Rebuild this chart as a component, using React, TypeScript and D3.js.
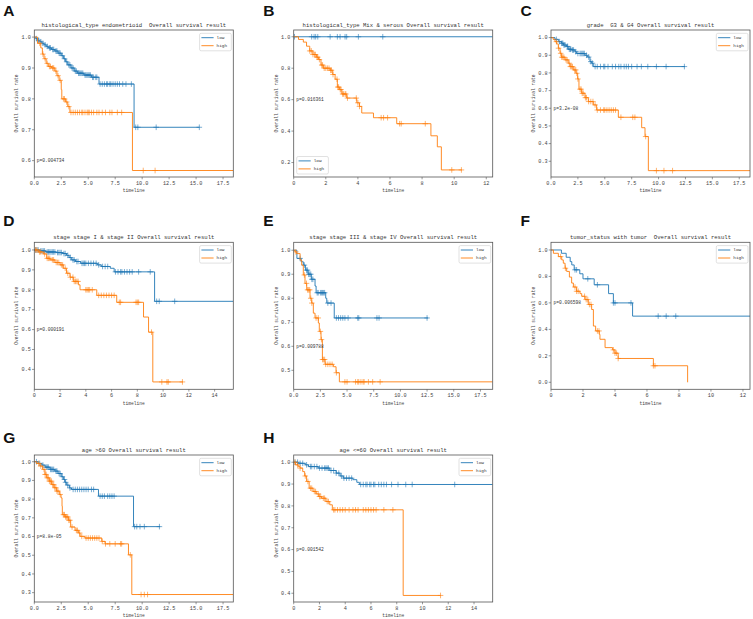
import React from 'react';
import * as d3 from 'd3';

type Step = [number, number];

// ---------- Panel A: histological_type endometrioid ----------
const aLowSteps: Step[] = [[0.15,0.995],[0.3,0.99],[0.5,0.985],[0.7,0.98],[0.9,0.975],[1.1,0.97],[1.3,0.965],[1.6,0.96],[1.9,0.955],[2.2,0.948],[2.5,0.94],[2.7,0.93],[2.9,0.92],[3.1,0.91],[3.4,0.9],[3.7,0.89],[4.0,0.883],[4.6,0.877],[5.3,0.87],[6.0,0.848],[9.25,0.708]];
const aLowCensors = [0.2,0.4,0.6,0.8,1.0,1.2,1.4,1.5,1.7,1.8,2.0,2.1,2.3,2.4,2.6,2.8,3.0,3.2,3.3,3.5,3.6,3.8,3.9,4.1,4.2,4.3,4.4,4.5,4.7,4.8,4.9,5.0,5.1,5.2,5.4,5.5,5.7,5.8,6.1,6.3,6.5,6.7,6.8,7.0,7.1,7.3,7.5,7.7,7.9,8.2,8.5,9.0,9.4,9.6,11.3,15.3];
const aLowEnd = 15.3;
const aHighSteps: Step[] = [[0.3,0.98],[0.6,0.965],[0.75,0.945],[0.9,0.93],[1.1,0.915],[1.3,0.905],[1.6,0.9],[1.9,0.89],[2.1,0.875],[2.3,0.86],[2.5,0.83],[2.55,0.8],[2.9,0.79],[3.1,0.775],[3.3,0.756],[9.1,0.568]];
const aHighCensors = [0.5,0.8,1.0,1.2,1.4,1.5,1.7,1.8,2.0,2.2,2.4,2.7,2.8,3.0,3.2,3.4,3.6,3.8,4.0,4.2,4.4,4.5,4.7,4.9,5.0,5.1,5.3,5.5,5.8,6.0,6.3,6.6,7.0,7.2,7.7,8.1,10.1,11.2];
const aHighEnd = 18.45;

// ---------- Panel B: histological_type Mix & serous ----------
const bLowSteps: Step[] = [];
const bLowCensors = [0.05,1.12,1.27,1.37,1.5,2.27,2.72,2.89,3.2,3.3,4.03,5.55];
const bLowEnd = 12.4;
const bHighSteps: Step[] = [[0.3,0.983],[0.6,0.966],[0.8,0.94],[1.0,0.91],[1.2,0.887],[1.43,0.87],[1.55,0.855],[1.7,0.82],[1.85,0.8],[2.27,0.787],[2.43,0.76],[2.58,0.73],[2.72,0.68],[2.85,0.664],[3.0,0.636],[3.3,0.61],[3.93,0.58],[4.1,0.557],[4.24,0.515],[4.97,0.485],[6.42,0.447],[8.55,0.37],[8.95,0.3],[9.2,0.153]];
const bHighCensors = [1.0,1.1,1.2,1.3,1.35,1.45,1.5,1.6,1.75,1.8,1.9,2.0,2.1,2.2,2.3,2.35,2.45,2.7,2.75,2.8,2.9,2.95,3.05,3.1,3.2,3.25,3.35,3.9,4.0,4.1,5.45,5.6,5.85,6.6,6.7,8.2,9.85,10.45];
const bHighEnd = 10.48;

// ---------- Panel C: grade G3 & G4 ----------
const cLowSteps: Step[] = [[0.37,0.99],[0.68,0.977],[0.99,0.968],[1.15,0.958],[1.45,0.95],[1.6,0.934],[1.92,0.93],[2.23,0.92],[2.38,0.91],[3.16,0.9],[3.38,0.89],[3.62,0.864],[3.78,0.855],[3.93,0.836]];
const cLowCensors = [0.5,0.8,1.0,1.1,1.2,1.3,1.5,1.55,1.7,1.8,1.85,2.0,2.1,2.3,2.5,2.7,2.8,2.9,3.0,3.1,3.3,3.5,3.7,3.85,4.1,4.3,4.6,4.9,5.0,5.3,5.7,6.0,6.3,6.5,6.8,7.0,7.2,7.5,8.0,8.4,9.0,9.8,10.7,12.4];
const cLowEnd = 12.45;
const cHighSteps: Step[] = [[0.2,0.99],[0.37,0.977],[0.53,0.964],[0.68,0.94],[0.84,0.911],[0.99,0.889],[1.3,0.874],[1.6,0.855],[1.77,0.836],[2.07,0.817],[2.32,0.798],[2.48,0.766],[2.6,0.708],[2.85,0.685],[3.16,0.66],[3.47,0.638],[3.93,0.619],[4.24,0.59],[6.26,0.549],[8.43,0.49],[8.74,0.44],[9.05,0.247]];
const cHighCensors = [0.5,0.7,0.9,1.0,1.1,1.2,1.4,1.5,1.7,1.8,1.9,2.0,2.2,2.3,2.4,2.5,2.7,2.8,2.9,3.0,3.2,3.3,3.5,3.7,3.9,4.1,4.3,4.6,4.9,5.0,5.2,5.4,5.6,5.8,6.0,6.5,7.6,7.8,8.8,9.8,10.5,11.3];
const cHighEnd = 18.5;

// ---------- Panel D: stage I & II ----------
const dLowSteps: Step[] = [[0.4,0.995],[0.9,0.99],[1.7,0.987],[2.2,0.982],[2.5,0.973],[2.7,0.962],[2.9,0.95],[3.2,0.942],[3.6,0.933],[4.9,0.925],[5.2,0.917],[5.9,0.908],[6.2,0.89],[9.34,0.742]];
const dLowCensors = [0.1,0.2,0.3,0.5,0.6,0.7,0.8,1.0,1.1,1.2,1.3,1.4,1.5,1.6,1.8,1.9,2.0,2.1,2.3,2.4,2.6,2.8,3.0,3.1,3.3,3.4,3.7,3.8,3.9,4.0,4.2,4.4,4.6,4.8,5.0,5.3,5.5,5.7,6.3,6.5,6.7,6.8,7.0,7.2,7.4,7.6,8.1,9.0,9.5,9.7,10.9];
const dLowEnd = 15.45;
const dHighSteps: Step[] = [[0.31,0.99],[0.7,0.98],[0.96,0.958],[1.22,0.95],[1.6,0.937],[2.0,0.925],[2.25,0.908],[2.5,0.883],[2.77,0.863],[3.03,0.842],[3.42,0.825],[3.55,0.8],[4.85,0.772],[6.4,0.737],[8.48,0.663],[8.87,0.587],[9.2,0.337]];
const dHighCensors = [0.1,0.2,0.4,0.5,0.8,1.0,1.1,1.2,1.4,1.5,1.7,1.8,1.9,2.1,2.2,2.4,2.6,2.8,3.0,3.1,3.2,3.3,3.4,4.0,4.1,4.2,4.3,4.5,5.0,5.2,5.4,5.6,5.8,6.0,6.2,6.6,6.7,7.9,8.0,8.1,9.1,9.9,10.3,10.4,11.5];
const dHighEnd = 11.54;

// ---------- Panel E: stage III & IV ----------
const eLowSteps: Step[] = [[0.3,0.966],[0.7,0.952],[0.9,0.938],[1.1,0.917],[1.35,0.9],[1.65,0.879],[2.0,0.851],[2.1,0.823],[3.0,0.8],[3.1,0.78],[3.8,0.718]];
const eLowCensors = [0.6,1.0,1.2,1.3,1.4,1.5,1.6,1.7,1.8,2.2,2.3,2.5,2.6,2.7,2.8,2.9,3.2,3.5,4.0,4.2,4.4,4.6,4.8,5.1,6.0,6.1,7.8,8.0,12.5];
const eLowEnd = 12.6;
const eHighSteps: Step[] = [[0.13,0.993],[0.28,0.986],[0.6,0.959],[0.75,0.938],[0.9,0.897],[1.06,0.862],[1.22,0.835],[1.53,0.8],[1.69,0.78],[1.84,0.738],[2.0,0.718],[2.31,0.697],[2.4,0.662],[2.56,0.628],[2.69,0.545],[2.94,0.525],[3.72,0.515],[3.97,0.49],[4.28,0.452]];
const eHighCensors = [0.2,1.0,1.2,1.3,1.4,1.5,1.6,1.7,2.1,2.3,2.5,2.6,2.7,2.8,2.9,3.0,3.2,3.4,3.6,4.0,4.8,5.0,5.8,6.0,6.1,6.3,6.5,6.6,7.0,7.4,8.1];
const eHighEnd = 18.65;

// ---------- Panel F: tumor_status with tumor ----------
const fLowSteps: Step[] = [[0.65,0.975],[0.95,0.945],[1.2,0.912],[1.3,0.887],[1.45,0.85],[1.8,0.82],[2.0,0.782],[2.7,0.737],[3.6,0.67],[3.9,0.6],[5.1,0.5]];
const fLowCensors = [1.5,1.6,2.3,2.9,3.9,4.0,5.0,6.7,7.2,7.8];
const fLowEnd = 12.44;
const fHighSteps: Step[] = [[0.15,0.975],[0.46,0.95],[0.67,0.925],[0.77,0.9],[0.88,0.862],[0.98,0.838],[1.15,0.795],[1.29,0.75],[1.4,0.72],[1.6,0.688],[1.81,0.67],[1.92,0.65],[2.13,0.625],[2.33,0.588],[2.54,0.55],[2.65,0.425],[2.79,0.388],[3.02,0.362],[3.06,0.325],[3.38,0.262],[3.85,0.245],[4.0,0.22],[4.2,0.18],[6.4,0.125],[8.54,0.0]];
const fHighCensors = [0.6,0.9,1.5,1.6,1.7,2.1,2.2,2.3,2.4,2.5,2.9,3.0,3.9,4.0,4.1,4.2,6.4,6.5];
const fHighEnd = 8.54;

// ---------- Panel G: age >60 ----------
const gLowSteps: Step[] = [[0.35,0.991],[0.7,0.982],[1.0,0.971],[1.45,0.959],[1.9,0.95],[2.2,0.937],[2.5,0.92],[2.7,0.905],[2.85,0.89],[3.0,0.875],[3.25,0.86],[3.45,0.852],[5.95,0.816],[9.2,0.653]];
const gLowCensors = [0.2,0.5,0.8,1.1,1.2,1.3,1.5,1.6,1.7,1.8,2.0,2.1,2.3,2.4,2.6,2.8,2.9,3.1,3.3,3.6,3.8,4.0,4.2,4.4,4.6,4.8,5.0,5.3,5.5,6.1,6.3,6.5,6.8,7.0,7.2,7.4,9.3,9.5,9.8,10.2,11.6];
const gLowEnd = 11.67;
const gHighSteps: Step[] = [[0.22,0.991],[0.53,0.977],[0.77,0.959],[0.99,0.932],[1.15,0.914],[1.39,0.896],[1.61,0.878],[1.83,0.861],[2.07,0.843],[2.32,0.825],[2.48,0.807],[2.57,0.762],[2.6,0.717],[2.85,0.705],[3.16,0.687],[3.37,0.651],[3.78,0.633],[4.09,0.619],[4.24,0.601],[4.7,0.592],[6.25,0.574],[6.56,0.561],[8.73,0.502],[9.04,0.29]];
const gHighCensors = [0.4,0.6,0.9,1.0,1.1,1.2,1.3,1.4,1.5,1.6,1.7,1.8,1.9,2.0,2.1,2.2,2.4,2.7,2.8,2.9,3.0,3.1,3.2,3.3,3.5,3.9,4.0,4.2,4.4,4.8,5.0,5.2,5.4,5.6,5.8,6.0,6.3,6.6,7.0,7.5,8.0,8.1,8.9,9.9,10.2,10.5];
const gHighEnd = 18.45;

// ---------- Panel H: age <=60 ----------
const hLowSteps: Step[] = [[0.35,0.995],[0.9,0.988],[1.15,0.98],[1.9,0.973],[2.8,0.962],[3.3,0.95],[3.6,0.937],[3.85,0.927],[4.6,0.92],[4.9,0.908],[5.1,0.898]];
const hLowCensors = [0.1,0.3,0.5,0.7,1.0,1.3,1.4,1.6,1.8,2.0,2.2,2.4,2.5,2.6,2.7,2.9,3.1,3.3,3.5,3.7,3.9,4.1,4.3,4.5,5.2,5.4,5.6,5.7,5.9,6.0,6.2,6.3,6.6,6.8,7.0,7.2,7.6,8.1,8.7,9.2,12.5];
const hLowEnd = 15.45;
const hHighSteps: Step[] = [[0.15,0.988],[0.35,0.98],[0.5,0.973],[0.7,0.957],[0.85,0.937],[1.0,0.912],[1.2,0.881],[1.5,0.866],[1.75,0.855],[1.95,0.843],[2.15,0.835],[2.5,0.82],[2.8,0.805],[3.0,0.782],[8.5,0.39]];
const hHighCensors = [0.1,0.3,0.5,0.9,1.1,1.3,1.4,1.6,1.7,1.9,2.0,2.1,2.3,2.4,2.6,2.7,3.1,3.2,3.4,3.6,3.8,4.0,4.3,4.6,4.8,5.0,5.4,5.6,5.8,6.0,6.2,6.4,7.0,7.7,11.4];
const hHighEnd = 11.41;

// ---------- Titles, letters, p-values, axis settings ----------
const panelLetters = ['A','B','C','D','E','F','G','H'];
const panelTitles = [
  'histological_type endometrioid  Overall survival result',
  'histological_type Mix & serous Overall survival result',
  'grade  G3 & G4 Overall survival result',
  'stage stage I & stage II Overall survival result',
  'stage stage III & stage IV Overall survival result',
  'tumor_status with tumor  Overall survival result',
  'age >60 Overall survival result',
  'age <=60 Overall survival result',
];
const pValues = ['p=0.004734','p=0.016361','p=3.2e-08','p=0.000191','p=0.009788','p=0.006598','p=8.8e-05','p=0.001542'];
const xMaxes = [18.45, 12.4, 18.5, 15.45, 18.65, 12.44, 18.45, 15.45];
const yDomains: [number, number][] = [[0.547,1.023],[0.108,1.043],[0.211,1.043],[0.30,1.0385],[0.421,1.033],[-0.053,1.058],[0.25,1.036],[0.36,1.033]];
const xTickSets = [
  [0,2.5,5,7.5,10,12.5,15,17.5],
  [0,2,4,6,8,10,12],
  [0,2.5,5,7.5,10,12.5,15,17.5],
  [0,2,4,6,8,10,12,14],
  [0,2.5,5,7.5,10,12.5,15,17.5],
  [0,2,4,6,8,10,12],
  [0,2.5,5,7.5,10,12.5,15,17.5],
  [0,2,4,6,8,10,12,14],
];
const yTickSets = [
  [0.6,0.7,0.8,0.9,1.0],
  [0.2,0.4,0.6,0.8,1.0],
  [0.3,0.4,0.5,0.6,0.7,0.8,0.9,1.0],
  [0.4,0.5,0.6,0.7,0.8,0.9,1.0],
  [0.5,0.6,0.7,0.8,0.9,1.0],
  [0.0,0.2,0.4,0.6,0.8,1.0],
  [0.3,0.4,0.5,0.6,0.7,0.8,0.9,1.0],
  [0.4,0.5,0.6,0.7,0.8,0.9,1.0],
];
const legendBottom = [false,true,false,false,false,false,false,false];

const curves = [
  [{ steps: aLowSteps, censors: aLowCensors, end: aLowEnd }, { steps: aHighSteps, censors: aHighCensors, end: aHighEnd }],
  [{ steps: bLowSteps, censors: bLowCensors, end: bLowEnd }, { steps: bHighSteps, censors: bHighCensors, end: bHighEnd }],
  [{ steps: cLowSteps, censors: cLowCensors, end: cLowEnd }, { steps: cHighSteps, censors: cHighCensors, end: cHighEnd }],
  [{ steps: dLowSteps, censors: dLowCensors, end: dLowEnd }, { steps: dHighSteps, censors: dHighCensors, end: dHighEnd }],
  [{ steps: eLowSteps, censors: eLowCensors, end: eLowEnd }, { steps: eHighSteps, censors: eHighCensors, end: eHighEnd }],
  [{ steps: fLowSteps, censors: fLowCensors, end: fLowEnd }, { steps: fHighSteps, censors: fHighCensors, end: fHighEnd }],
  [{ steps: gLowSteps, censors: gLowCensors, end: gLowEnd }, { steps: gHighSteps, censors: gHighCensors, end: gHighEnd }],
  [{ steps: hLowSteps, censors: hLowCensors, end: hLowEnd }, { steps: hHighSteps, censors: hHighCensors, end: hHighEnd }],
];

const seriesNames = ['low', 'high'];
const COLORS = ['#1f77b4', '#ff7f0e'];
const MONO = '"Liberation Mono", "DejaVu Sans Mono", monospace';
const COL_LEFT = [34.3, 293.7, 551];
const ROW_TOP = [30, 242.3, 455];
const PW = 199;
const PH = 147;
const LETTER_X = [3.3, 263.3, 520.5];
const LETTER_Y = [16.2, 225.5, 443.3];

function survAt(steps: Step[], t: number) {
  let s = 1;
  for (const [tt, ss] of steps) { if (tt <= t) s = ss; else break; }
  return s;
}

function Panel({ i }: { i: number }) {
  const col = i % 3;
  const row = Math.floor(i / 3);
  const left = COL_LEFT[col];
  const top = ROW_TOP[row];
  const x = d3.scaleLinear().domain([0, xMaxes[i]]).range([0, PW]);
  const y = d3.scaleLinear().domain(yDomains[i]).range([PH, 0]);
  const line = d3.line<[number, number]>().x(d => x(d[0])).y(d => y(d[1])).curve(d3.curveStepAfter);
  const is25 = xTickSets[i].some(v => v % 1 !== 0);
  const fmtX = is25 ? d3.format('.1f') : d3.format('d');
  const fmtY = d3.format('.1f');
  const clipId = `clip${i}`;
  const lgW = 31.7, lgH = 17.5;
  const lgX = legendBottom[i] ? 3 : PW - lgW - 2;
  const lgY = legendBottom[i] ? PH - lgH - 3 : 3.3;
  return (
    <g transform={`translate(${left},${top})`}>
      <defs>
        <clipPath id={clipId}><rect x={0} y={0} width={PW} height={PH} /></clipPath>
      </defs>
      <text x={PW / 2} y={-3.2} textAnchor="middle" fontFamily={MONO} fontSize={5.6} fill="#333" style={{ whiteSpace: 'pre' }}>{panelTitles[i]}</text>
      <g clipPath={`url(#${clipId})`}>
        {curves[i].map((c, k) => {
          const pts: [number, number][] = [[0, 1], ...c.steps.map(s => [s[0], s[1]] as [number, number])];
          const last = pts[pts.length - 1];
          pts.push([c.end, last[1]]);
          return (
            <g key={k}>
              <path d={line(pts) || ''} fill="none" stroke={COLORS[k]} strokeWidth={0.9} />
              {c.censors.map((t, j) => {
                const cx = x(t), cy = y(survAt(c.steps, t));
                return <path key={j} d={`M${cx - 2.8},${cy}h5.6M${cx},${cy - 2.8}v5.6`} stroke={COLORS[k]} strokeWidth={0.7} strokeOpacity={0.85} />;
              })}
            </g>
          );
        })}
      </g>
      <rect x={0} y={0} width={PW} height={PH} fill="none" stroke="#555" strokeWidth={0.8} />
      {xTickSets[i].map(v => (
        <g key={'x' + v}>
          <line x1={x(v)} x2={x(v)} y1={PH} y2={PH + 2.3} stroke="#555" strokeWidth={0.6} />
          <text x={x(v)} y={PH + 8.2} textAnchor="middle" fontFamily={MONO} fontSize={5.2} fill="#444">{fmtX(v)}</text>
        </g>
      ))}
      {yTickSets[i].map(v => (
        <g key={'y' + v}>
          <line x1={-2.3} x2={0} y1={y(v)} y2={y(v)} stroke="#555" strokeWidth={0.6} />
          <text x={-3.4} y={y(v) + 1.8} textAnchor="end" fontFamily={MONO} fontSize={5.2} fill="#444">{fmtY(v)}</text>
        </g>
      ))}
      <text x={PW / 2} y={PH + 15.3} textAnchor="middle" fontFamily={MONO} fontSize={4.6} fill="#444">timeline</text>
      <text transform={`translate(-16.2,${PH / 2}) rotate(-90)`} textAnchor="middle" fontFamily={MONO} fontSize={4.6} fill="#444">Overall survival rate</text>
      <text x={2.5} y={y(0.6) + 1.6} fontFamily={MONO} fontSize={4.6} fill="#333">{pValues[i]}</text>
      <g transform={`translate(${lgX},${lgY})`}>
        <rect x={0} y={0} width={lgW} height={lgH} rx={1.5} fill="#fff" fillOpacity={0.8} stroke="#ccc" strokeWidth={0.6} />
        {seriesNames.map((n, k) => (
          <g key={n}>
            <line x1={1.8} x2={14} y1={4.4 + k * 8} y2={4.4 + k * 8} stroke={COLORS[k]} strokeWidth={0.9} />
            <text x={17} y={4.4 + k * 8 + 1.5} fontFamily={MONO} fontSize={4.4} fill="#333">{n}</text>
          </g>
        ))}
      </g>
    </g>
  );
}

export default function App() {
  return (
    <svg width={753} height={619} style={{ position: 'absolute', left: 0, top: 0, background: '#fff' }}>
      <rect width={753} height={619} fill="#fff" />
      {panelLetters.map((L, i) => (
        <text key={L} x={LETTER_X[i % 3]} y={LETTER_Y[Math.floor(i / 3)]} fontFamily='"Liberation Sans", Arial, sans-serif' fontWeight="bold" fontSize={15.5} fill="#111">{L}</text>
      ))}
      {panelLetters.map((_, i) => <Panel key={i} i={i} />)}
    </svg>
  );
}
